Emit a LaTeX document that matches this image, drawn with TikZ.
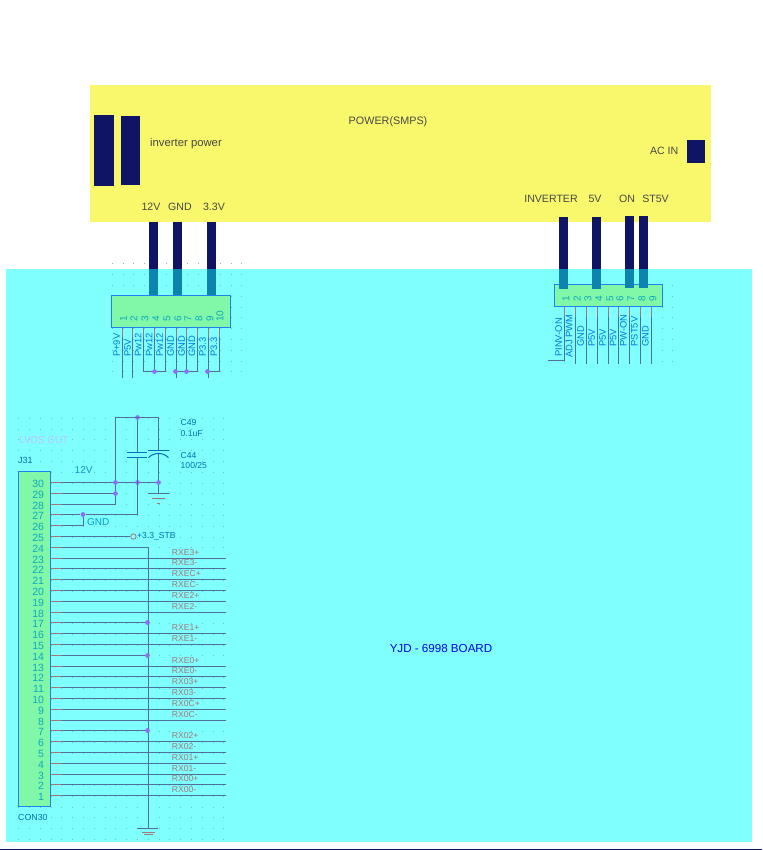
\documentclass[tikz,border=0pt]{standalone}
\usepackage{fontspec}
\setmainfont{Liberation Sans}
\definecolor{smpsyellow}{HTML}{F9F86C}
\definecolor{boardcyan}{HTML}{80FFFF}
\definecolor{connfill}{HTML}{80F8A8}
\definecolor{connedge}{HTML}{2080F0}
\definecolor{navywire}{HTML}{101464}
\definecolor{tealwire}{HTML}{0C84AE}
\definecolor{netline}{HTML}{50709C}
\definecolor{leadline}{HTML}{A07878}
\definecolor{junction}{HTML}{8A70F8}
\definecolor{pinteal}{HTML}{10A8C0}
\definecolor{netblue}{HTML}{0078D8}
\definecolor{partblue}{HTML}{0070B0}
\definecolor{griddot}{HTML}{66C4CC}
\tikzset{
  connbox/.style={draw=connedge,fill=connfill,line width=1pt,inner sep=0pt},
  powertext/.style={font=\fontsize{10.6}{12}\selectfont,text=black!72,inner sep=0pt},
  navyblock/.style={draw=none,fill=navywire,inner sep=0pt},
  pinnum/.style={font=\fontsize{10.5}{12}\selectfont,text=pinteal,inner sep=0pt},
  toppin/.style={font=\fontsize{10}{12}\selectfont,text=pinteal,inner sep=0pt,rotate=90,anchor=west},
  netname/.style={font=\fontsize{9.4}{10}\selectfont,text=netblue,inner sep=0pt,rotate=90,anchor=west},
  rxname/.style={font=\fontsize{8.6}{10}\selectfont,text=leadline,inner sep=0pt,anchor=west},
  partname/.style={font=\fontsize{8.6}{10}\selectfont,text=partblue,inner sep=0pt,anchor=west},
  net/.style={draw=netline,line width=1pt},
  lead/.style={draw=leadline,line width=1pt},
  navywire/.style={draw=navywire,line width=9pt},
  tealwire/.style={draw=tealwire,line width=9pt},
  dotjoin/.style={circle,fill=junction,inner sep=0pt,minimum size=4.8pt},
}
\begin{document}
\begin{tikzpicture}[x=1pt,y=-1pt]
  \useasboundingbox (0,0) rectangle (762,850);
  \fill[white] (0,0) rectangle (762,850);
  % board and supply
  \fill[boardcyan] (6,269) rectangle (752,842);
  \fill[smpsyellow] (90,85) rectangle (711,222.3);
  \draw[navywire,line width=1.2pt] (0,849.4) coordinate (baseL) -- (762,849.4) coordinate (baseR);
  % grid
  \foreach \x in {111.7,122.5,...,243}
    \foreach \y in {263.3,274.1,...,380}
      \fill[griddot] (\x,\y) rectangle +(0.9,0.9);
  \foreach \x in {564.3,575.1,...,675}
    \foreach \y in {284.9,295.7,...,366}
      \fill[griddot] (\x,\y) rectangle +(0.9,0.9);
  \foreach \x in {18.2,29,...,228}
    \foreach \y in {417.7,428.5,...,840}
      \fill[griddot] (\x,\y) rectangle +(0.9,0.9);
  % supply blocks and text
  \node[navyblock,minimum width=20pt,minimum height=71pt] (inva) at (104,150.5) {};
  \node[navyblock,minimum width=19pt,minimum height=69pt] (invb) at (130.5,150.5) {};
  \node[navyblock,minimum width=18pt,minimum height=23pt] (acin) at (696,151.5) {};
  \node[powertext,font=\fontsize{10.8}{12}\selectfont] (smps) at (388,122) {POWER(SMPS)};
  \node[powertext,font=\fontsize{11.3}{12}\selectfont] (invtxt) at (186,144) {inverter power};
  \node[powertext,anchor=east] (actxt) at (678.5,150.5) {AC IN};
  \node[powertext] (v12) at (151,207) {12V};
  \node[powertext] (gndv) at (180,207) {GND};
  \node[powertext] (v33) at (214,207) {3.3V};
  \node[powertext] (invout) at (551,199) {INVERTER};
  \node[powertext] (v5) at (595,199) {5V};
  \node[powertext] (onout) at (627,199) {ON};
  \node[powertext] (st5v) at (655.5,199) {ST5V};
  \node[font=\fontsize{11.6}{12}\selectfont,text=blue!90!black,inner sep=0pt] (board) at (441,648) {YJD - 6998 BOARD};
  % power wires
  \draw[navywire] (153.5,222.3) coordinate (ta) -- (153.5,269) coordinate (ma);
  \draw[navywire] (177.5,222.3) coordinate (tb) -- (177.5,269) coordinate (mb);
  \draw[navywire] (211.5,222.3) coordinate (tc) -- (211.5,269) coordinate (mc);
  \draw[navywire] (563.5,217) coordinate (td) -- (563.5,269) coordinate (md);
  \draw[navywire] (596.5,217) coordinate (te) -- (596.5,269) coordinate (me);
  \draw[navywire] (629.5,216) coordinate (tf) -- (629.5,269) coordinate (mf);
  \draw[navywire] (643.5,216) coordinate (tg) -- (643.5,269) coordinate (mg);
  \draw[tealwire] (ma) -- (153.5,295.5) coordinate (ba);
  \draw[tealwire] (mb) -- (177.5,295.5) coordinate (bb);
  \draw[tealwire] (mc) -- (211.5,295.5) coordinate (bc);
  % left connector
  \node[connbox,minimum width=119pt,minimum height=32pt] (cna) at (171,311.5) {};
  \draw
    (123.5,322) node[toppin] (a1){1}
    (134,322) node[toppin] (a2){2}
    (145,322) node[toppin] (a3){3}
    (156,322) node[toppin] (a4){4}
    (167,322) node[toppin] (a5){5}
    (178,322) node[toppin] (a6){6}
    (188,322) node[toppin] (a7){7}
    (199,322) node[toppin] (a8){8}
    (210,322) node[toppin] (a9){9}
    (220,322) node[toppin] (a10){10};
  \draw[lead] (122.5,327.5) coordinate (pa1) -- (122.5,337) coordinate (qa1);
  \draw[lead] (132.5,327.5) coordinate (pa2) -- (132.5,337) coordinate (qa2);
  \draw[lead] (143.5,327.5) coordinate (pa3) -- (143.5,337) coordinate (qa3);
  \draw[lead] (154.5,327.5) coordinate (pa4) -- (154.5,337) coordinate (qa4);
  \draw[lead] (165.5,327.5) coordinate (pa5) -- (165.5,337) coordinate (qa5);
  \draw[lead] (176.5,327.5) coordinate (pa6) -- (176.5,337) coordinate (qa6);
  \draw[lead] (186.5,327.5) coordinate (pa7) -- (186.5,337) coordinate (qa7);
  \draw[lead] (197.5,327.5) coordinate (pa8) -- (197.5,337) coordinate (qa8);
  \draw[lead] (208.5,327.5) coordinate (pa9) -- (208.5,337) coordinate (qa9);
  \draw[lead] (219.5,327.5) coordinate (pa10) -- (219.5,337) coordinate (qa10);
  \draw[net] (qa1) -- (122.5,377.5) coordinate (ea1);
  \draw[net] (qa2) -- (132.5,377.5) coordinate (ea2);
  \draw[net] (qa6) -- (176.5,377.5) coordinate (ea6);
  \draw[net] (qa9) -- (208.5,377.5) coordinate (ea9);
  \draw[net] (qa3) -- (143.5,371.5) coordinate (ja3) -- (165.5,371.5) coordinate (ja5) -- (qa5);
  \draw[net] (qa4) -- (154.5,371.5) node[dotjoin] (da4){};
  \draw[net] (176.5,371.5) node[dotjoin,xshift=-1pt] (da6){} -- (197.5,371.5) coordinate (ja8) -- (qa8);
  \draw[net] (qa7) -- (186.5,371.5) node[dotjoin] (da7){};
  \draw[net] (208.5,371.5) node[dotjoin,xshift=-1pt] (da9){} -- (219.5,371.5) coordinate (ja10) -- (qa10);
  \draw
    (116.7,357) node[netname] (la1){P+9V}
    (127.7,357) node[netname] (la2){P5V}
    (138,357) node[netname] (la3){Pw12}
    (149,357) node[netname] (la4){Pw12}
    (159.7,357) node[netname] (la5){Pw12}
    (170.7,357) node[netname] (la6){GND}
    (181.7,357) node[netname] (la7){GND}
    (192,357) node[netname] (la8){GND}
    (202.7,357) node[netname] (la9){P3.3}
    (214,357) node[netname] (la10){P3.3};
  % right connector
  \node[connbox,minimum width=108pt,minimum height=22pt] (cnb) at (608.5,295.5) {};
  \draw[tealwire] (md) -- (563.5,288.7) coordinate (bd);
  \draw[tealwire] (me) -- (596.5,288.7) coordinate (be);
  \draw[tealwire] (mf) -- (629.5,287.7) coordinate (bf);
  \draw[tealwire] (mg) -- (643.5,287.7) coordinate (bg);
  \draw
    (566,301.5) node[toppin] (b1){1}
    (577,301.5) node[toppin] (b2){2}
    (588,301.5) node[toppin] (b3){3}
    (599,301.5) node[toppin] (b4){4}
    (610,301.5) node[toppin] (b5){5}
    (620,301.5) node[toppin] (b6){6}
    (631,301.5) node[toppin] (b7){7}
    (642,301.5) node[toppin] (b8){8}
    (653,301.5) node[toppin] (b9){9};
  \draw[lead] (564.5,306.5) coordinate (pb1) -- (564.5,316.5) coordinate (qb1);
  \draw[lead] (575.5,306.5) coordinate (pb2) -- (575.5,316.5) coordinate (qb2);
  \draw[lead] (586.5,306.5) coordinate (pb3) -- (586.5,316.5) coordinate (qb3);
  \draw[lead] (597.5,306.5) coordinate (pb4) -- (597.5,316.5) coordinate (qb4);
  \draw[lead] (608.5,306.5) coordinate (pb5) -- (608.5,316.5) coordinate (qb5);
  \draw[lead] (618.5,306.5) coordinate (pb6) -- (618.5,316.5) coordinate (qb6);
  \draw[lead] (629.5,306.5) coordinate (pb7) -- (629.5,316.5) coordinate (qb7);
  \draw[lead] (640.5,306.5) coordinate (pb8) -- (640.5,316.5) coordinate (qb8);
  \draw[lead] (651.5,306.5) coordinate (pb9) -- (651.5,316.5) coordinate (qb9);
  \draw[net] (qb1) -- (564.5,360.5) coordinate (jb1) -- (547.5,360.5) coordinate (eb1);
  \draw[net] (qb2) -- (575.5,364) coordinate (eb2);
  \draw[net] (qb3) -- (586.5,364) coordinate (eb3);
  \draw[net] (qb4) -- (597.5,364) coordinate (eb4);
  \draw[net] (qb5) -- (608.5,364) coordinate (eb5);
  \draw[net] (qb6) -- (618.5,364) coordinate (eb6);
  \draw[net] (qb7) -- (629.5,364) coordinate (eb7);
  \draw[net] (qb8) -- (640.5,364) coordinate (eb8);
  \draw[net] (qb9) -- (651.5,364) coordinate (eb9);
  \draw
    (558.7,357) node[netname] (lb1){PINV-ON}
    (569.3,358) node[netname] (lb2){ADJ PWM}
    (580.7,346.7) node[netname] (lb3){GND}
    (591.7,346.7) node[netname] (lb4){P5V}
    (602.7,346.7) node[netname] (lb5){P5V}
    (613.3,346.7) node[netname] (lb6){P5V}
    (623.3,346.7) node[netname] (lb7){PW-ON}
    (634.3,346.7) node[netname] (lb8){PST5V}
    (645.3,346.7) node[netname] (lb9){GND};
  % J31
  \node[connbox,minimum width=32pt,minimum height=335pt] (j31) at (34.5,639) {};
  \draw
    (50.5,482.5) coordinate (j30) (50.5,493.5) coordinate (j29) (50.5,504.5) coordinate (j28)
    (50.5,514.5) coordinate (j27) (50.5,525.5) coordinate (j26) (50.5,536.5) coordinate (j25)
    (50.5,547.5) coordinate (j24) (50.5,558.5) coordinate (j23) (50.5,568.5) coordinate (j22)
    (50.5,579.5) coordinate (j21) (50.5,590.5) coordinate (j20) (50.5,601.5) coordinate (j19)
    (50.5,612.5) coordinate (j18) (50.5,622.5) coordinate (j17) (50.5,633.5) coordinate (j16)
    (50.5,644.5) coordinate (j15) (50.5,655.5) coordinate (j14) (50.5,666.5) coordinate (j13)
    (50.5,676.5) coordinate (j12) (50.5,687.5) coordinate (j11) (50.5,698.5) coordinate (j10)
    (50.5,709.5) coordinate (j9) (50.5,720.5) coordinate (j8) (50.5,730.5) coordinate (j7)
    (50.5,741.5) coordinate (j6) (50.5,752.5) coordinate (j5) (50.5,763.5) coordinate (j4)
    (50.5,774.5) coordinate (j3) (50.5,784.5) coordinate (j2) (50.5,795.5) coordinate (j1);
  \foreach \n in {1,...,30} {
    \node[pinnum,anchor=east] (num\n) at ([xshift=-6.3pt,yshift=-1.2pt]j\n) {\n};
    \draw[lead] (j\n) -- ([xshift=11pt]j\n) coordinate (t\n);
  }
  \coordinate (rxend) at (226,0);
  \coordinate (gndbus) at (148.5,0);
  \foreach \n in {23,22,21,20,19,18,16,15,13,12,11,10,9,8,6,5,4,3,2,1}
    \draw[net] (t\n) -- (t\n -| rxend);
  \draw[net] (t24) -- (t24 -| gndbus) coordinate (bustop) -- (148.5,828) coordinate (busgnd);
  \draw[net] (t17) -- (t17 -| gndbus) node[dotjoin,xshift=-1pt] (d17){};
  \draw[net] (t14) -- (t14 -| gndbus) node[dotjoin,xshift=-1pt] (d14){};
  \draw[net] (t7) -- (t7 -| gndbus) node[dotjoin,xshift=-1pt] (d7){};
  \draw[net] (137,828.5) -- (158,828.5);
  \draw[lead] (142,832.5) -- (155,832.5);
  \draw[lead] (143.5,834.5) -- (153,834.5);
  % capacitors
  \coordinate (capl) at (115.5,417.5);
  \coordinate (capr) at (158.5,417.5);
  \node[dotjoin] (dtop) at (137.5,417.5) {};
  \node[dotjoin] (d30a) at (115.5,482.5) {};
  \node[dotjoin] (d30b) at (137.5,482.5) {};
  \node[dotjoin] (d30c) at (158.5,482.5) {};
  \node[dotjoin] (d29) at (115.5,493.5) {};
  \draw[net] (t30) -- (d30a) -- (d30b) -- (d30c);
  \draw[net] (t29) -- (d29);
  \draw[net] (t28) -- (115.5,504.5) coordinate (c28) -- (d29) -- (d30a) -- (capl) -- (capr) -- (158.5,450) coordinate (c44up);
  \node[dotjoin] (d27) at (83,514.5) {};
  \draw[net] (t27) -- (d27) -- (137.5,514.5) coordinate (c27) -- (137.5,457.5) coordinate (c49dn);
  \draw[net] (t26) -- (83,525.5) coordinate (c26) -- (d27);
  \draw[net] (dtop) -- (137.5,452.5) coordinate (c49up);
  \draw[net,draw=partblue] (127,452.5) -- (147,452.5);
  \draw[net,draw=partblue] (127,457.5) -- (147,457.5);
  \draw[net,draw=partblue] (148,450.5) -- (169,450.5);
  \draw[net,draw=partblue] (148.5,457.7) .. controls (154,452) and (163,452) .. (168.5,457.7);
  \draw[net] (158.5,454) coordinate (c44dn) -- (d30c) -- (158.5,493.5) coordinate (capgnd);
  \draw[net] (148,493.5) -- (169,493.5);
  \draw[lead] (152,498.5) -- (165,498.5);
  \draw[lead] (157,503) -- (160,503);
  \node[circle,draw=leadline,fill=boardcyan,line width=0.8pt,inner sep=0pt,minimum size=5.4pt] (stb) at (133.4,536.5) {};
  \draw[net] (t25) -- (stb);
  \node[partname] (stbtxt) at (137,536.5) {+3.3\_STB};
  % part labels
  \node[partname] (c49a) at (180.5,422.5) {C49};
  \node[partname] (c49b) at (180.5,433.5) {0.1uF};
  \node[partname] (c44a) at (180.5,455.5) {C44};
  \node[partname] (c44b) at (180.5,465.5) {100/25};
  \node[partname,font=\fontsize{9}{10}\selectfont] (j31txt) at (18,460) {J31};
  \node[partname,font=\fontsize{8.8}{10}\selectfont] (con30) at (18,817) {CON30};
  \node[partname,font=\fontsize{10}{12}\selectfont,text=pinteal!70!netblue] (txt12v) at (74.5,470) {12V};
  \node[partname,font=\fontsize{10}{12}\selectfont,text=pinteal!70!netblue] (txtgnd) at (87,522) {GND};
  \node[partname,font=\fontsize{10}{12}\selectfont,text={rgb,255:red,192;green,192;blue,255}] (lvds) at (19,440) {LVDS OUT};
  % rx labels
  \draw
    (171.7,552.7) node[rxname] (r23){RXE3+}
    (171.7,562.7) node[rxname] (r22){RXE3-}
    (171.7,573.7) node[rxname] (r21){RXEC+}
    (171.7,584.7) node[rxname] (r20){RXEC-}
    (171.7,595.7) node[rxname] (r19){RXE2+}
    (171.7,606.7) node[rxname] (r18){RXE2-}
    (171.7,627.7) node[rxname] (r16){RXE1+}
    (171.7,638.7) node[rxname] (r15){RXE1-}
    (171.7,660.7) node[rxname] (r13){RXE0+}
    (171.7,670.7) node[rxname] (r12){RXE0-}
    (171.7,681.7) node[rxname] (r11){RX03+}
    (171.7,692.7) node[rxname] (r10){RX03-}
    (171.7,703.7) node[rxname] (r9){RX0C+}
    (171.7,714.7) node[rxname] (r8){RX0C-}
    (171.7,735.7) node[rxname] (r6){RX02+}
    (171.7,746.7) node[rxname] (r5){RX02-}
    (171.7,757.7) node[rxname] (r4){RX01+}
    (171.7,768.7) node[rxname] (r3){RX01-}
    (171.7,778.7) node[rxname] (r2){RX00+}
    (171.7,789.7) node[rxname] (r1){RX00-};
\end{tikzpicture}
\end{document}
